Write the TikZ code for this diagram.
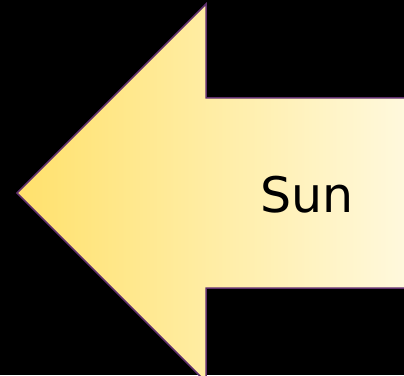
\documentclass[tikz,border=0pt]{standalone}
\usepackage{fontspec}
\setmainfont{DejaVu Sans}
\definecolor{arrowleft}{RGB}{255,225,108}
\definecolor{arrowright}{RGB}{255,249,222}
\definecolor{outline}{RGB}{96,48,110}
\tikzset{sunarrow/.style={draw=outline, line width=1.5pt, left color=arrowleft, right color=arrowright, line join=miter}}
\begin{document}
\begin{tikzpicture}[x=1pt,y=1pt]
\fill[black] (0,0) rectangle (404,375);
\useasboundingbox (0,0) rectangle (404,375);
\begin{scope}
\clip (0,0) rectangle (404,375);
\path[sunarrow] (17,182) -- (206,371) -- (206,277) -- (410,277) -- (410,87) -- (206,87) -- (206,-7) -- cycle;
\end{scope}
\node[font=\fontsize{49}{58}\selectfont, text=black] (sun) at (307,180) {Sun};
\end{tikzpicture}
\end{document}
